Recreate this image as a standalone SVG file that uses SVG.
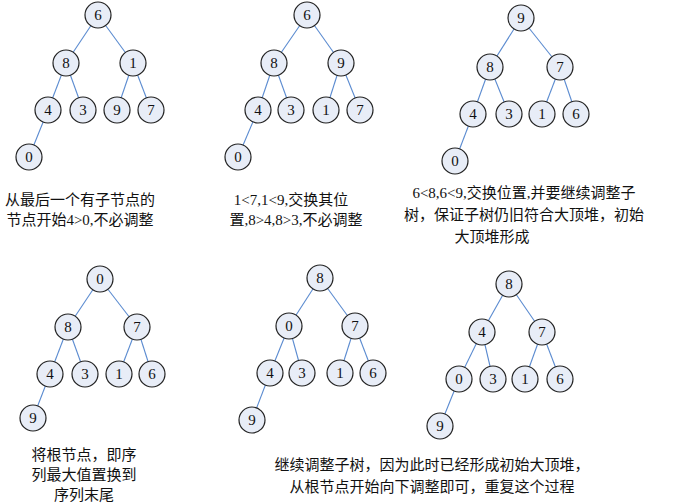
<svg xmlns="http://www.w3.org/2000/svg" width="683" height="503" viewBox="0 0 683 503">
<style>
.n circle{fill:#e8edf7;stroke:#222;stroke-width:1.2}
.n text,.t{font-family:"Liberation Serif","Noto Sans CJK SC",serif;fill:#111}
.n text{font-size:15px;text-anchor:middle;dominant-baseline:central}
.t{font-size:15px;text-anchor:middle}
#edges line{stroke:#5b8bd0;stroke-width:1.1}
</style>
<rect width="683" height="503" fill="#fff"/>
<g id="edges">
<line x1="98" y1="15" x2="66" y2="63"/><line x1="98" y1="15" x2="133" y2="63"/><line x1="66" y1="63" x2="48" y2="110"/><line x1="66" y1="63" x2="83" y2="110"/><line x1="133" y1="63" x2="117" y2="110"/><line x1="133" y1="63" x2="151" y2="110"/><line x1="48" y1="110" x2="29" y2="157"/>
<line x1="307" y1="15" x2="274" y2="63"/><line x1="307" y1="15" x2="341" y2="63"/><line x1="274" y1="63" x2="258" y2="110"/><line x1="274" y1="63" x2="291" y2="110"/><line x1="341" y1="63" x2="326" y2="110"/><line x1="341" y1="63" x2="360" y2="110"/><line x1="258" y1="110" x2="238" y2="157"/>
<line x1="521" y1="18" x2="490" y2="67"/><line x1="521" y1="18" x2="560" y2="67"/><line x1="490" y1="67" x2="473" y2="114"/><line x1="490" y1="67" x2="509" y2="114"/><line x1="560" y1="67" x2="542" y2="114"/><line x1="560" y1="67" x2="576" y2="114"/><line x1="473" y1="114" x2="455" y2="161"/>
<line x1="100" y1="279" x2="68" y2="327"/><line x1="100" y1="279" x2="137" y2="327"/><line x1="68" y1="327" x2="50" y2="374"/><line x1="68" y1="327" x2="85" y2="374"/><line x1="137" y1="327" x2="119" y2="374"/><line x1="137" y1="327" x2="152" y2="374"/><line x1="50" y1="374" x2="33" y2="418"/>
<line x1="320" y1="278" x2="289" y2="326"/><line x1="320" y1="278" x2="355" y2="326"/><line x1="289" y1="326" x2="270" y2="373"/><line x1="289" y1="326" x2="302" y2="373"/><line x1="355" y1="326" x2="340" y2="373"/><line x1="355" y1="326" x2="373" y2="373"/><line x1="270" y1="373" x2="252" y2="420"/>
<line x1="509" y1="284" x2="482" y2="332"/><line x1="509" y1="284" x2="542" y2="332"/><line x1="482" y1="332" x2="459" y2="379"/><line x1="482" y1="332" x2="493" y2="379"/><line x1="542" y1="332" x2="525" y2="379"/><line x1="542" y1="332" x2="560" y2="379"/><line x1="459" y1="379" x2="440" y2="426"/>
</g>
<g id="t1" class="n">
<circle cx="98" cy="15" r="13"/><text x="98" y="15">6</text>
<circle cx="66" cy="63" r="13"/><text x="66" y="63">8</text>
<circle cx="133" cy="63" r="13"/><text x="133" y="63">1</text>
<circle cx="48" cy="110" r="13"/><text x="48" y="110">4</text>
<circle cx="83" cy="110" r="13"/><text x="83" y="110">3</text>
<circle cx="117" cy="110" r="13"/><text x="117" y="110">9</text>
<circle cx="151" cy="110" r="13"/><text x="151" y="110">7</text>
<circle cx="29" cy="157" r="13"/><text x="29" y="157">0</text>
</g>
<g id="t2" class="n">
<circle cx="307" cy="15" r="13"/><text x="307" y="15">6</text>
<circle cx="274" cy="63" r="13"/><text x="274" y="63">8</text>
<circle cx="341" cy="63" r="13"/><text x="341" y="63">9</text>
<circle cx="258" cy="110" r="13"/><text x="258" y="110">4</text>
<circle cx="291" cy="110" r="13"/><text x="291" y="110">3</text>
<circle cx="326" cy="110" r="13"/><text x="326" y="110">1</text>
<circle cx="360" cy="110" r="13"/><text x="360" y="110">7</text>
<circle cx="238" cy="157" r="13"/><text x="238" y="157">0</text>
</g>
<g id="t3" class="n">
<circle cx="521" cy="18" r="13"/><text x="521" y="18">9</text>
<circle cx="490" cy="67" r="13"/><text x="490" y="67">8</text>
<circle cx="560" cy="67" r="13"/><text x="560" y="67">7</text>
<circle cx="473" cy="114" r="13"/><text x="473" y="114">4</text>
<circle cx="509" cy="114" r="13"/><text x="509" y="114">3</text>
<circle cx="542" cy="114" r="13"/><text x="542" y="114">1</text>
<circle cx="576" cy="114" r="13"/><text x="576" y="114">6</text>
<circle cx="455" cy="161" r="13"/><text x="455" y="161">0</text>
</g>
<g id="t4" class="n">
<circle cx="100" cy="279" r="13"/><text x="100" y="279">0</text>
<circle cx="68" cy="327" r="13"/><text x="68" y="327">8</text>
<circle cx="137" cy="327" r="13"/><text x="137" y="327">7</text>
<circle cx="50" cy="374" r="13"/><text x="50" y="374">4</text>
<circle cx="85" cy="374" r="13"/><text x="85" y="374">3</text>
<circle cx="119" cy="374" r="13"/><text x="119" y="374">1</text>
<circle cx="152" cy="374" r="13"/><text x="152" y="374">6</text>
<circle cx="33" cy="418" r="13"/><text x="33" y="418">9</text>
</g>
<g id="t5" class="n">
<circle cx="320" cy="278" r="13"/><text x="320" y="278">8</text>
<circle cx="289" cy="326" r="13"/><text x="289" y="326">0</text>
<circle cx="355" cy="326" r="13"/><text x="355" y="326">7</text>
<circle cx="270" cy="373" r="13"/><text x="270" y="373">4</text>
<circle cx="302" cy="373" r="13"/><text x="302" y="373">3</text>
<circle cx="340" cy="373" r="13"/><text x="340" y="373">1</text>
<circle cx="373" cy="373" r="13"/><text x="373" y="373">6</text>
<circle cx="252" cy="420" r="13"/><text x="252" y="420">9</text>
</g>
<g id="t6" class="n">
<circle cx="509" cy="284" r="13"/><text x="509" y="284">8</text>
<circle cx="482" cy="332" r="13"/><text x="482" y="332">4</text>
<circle cx="542" cy="332" r="13"/><text x="542" y="332">7</text>
<circle cx="459" cy="379" r="13"/><text x="459" y="379">0</text>
<circle cx="493" cy="379" r="13"/><text x="493" y="379">3</text>
<circle cx="525" cy="379" r="13"/><text x="525" y="379">1</text>
<circle cx="560" cy="379" r="13"/><text x="560" y="379">6</text>
<circle cx="440" cy="426" r="13"/><text x="440" y="426">9</text>
</g>
<g id="labels">
<text class="t" x="80" y="205">从最后一个有子节点的</text>
<text class="t" x="80" y="225">节点开始4&gt;0,不必调整</text>
<text class="t" x="291" y="205">1&lt;7,1&lt;9,交换其位</text>
<text class="t" x="296" y="225">置,8&gt;4,8&gt;3,不必调整</text>
<text class="t" x="524" y="198">6&lt;8,6&lt;9,交换位置,并要继续调整子</text>
<text class="t" x="524" y="220">树，保证子树仍旧符合大顶堆，初始</text>
<text class="t" x="492" y="242">大顶堆形成</text>
<text class="t" x="84" y="460">将根节点，即序</text>
<text class="t" x="84" y="480">列最大值置换到</text>
<text class="t" x="84" y="500">序列末尾</text>
<text class="t" x="432" y="470">继续调整子树，因为此时已经形成初始大顶堆，</text>
<text class="t" x="432" y="492">从根节点开始向下调整即可，重复这个过程</text>
</g>
</svg>
